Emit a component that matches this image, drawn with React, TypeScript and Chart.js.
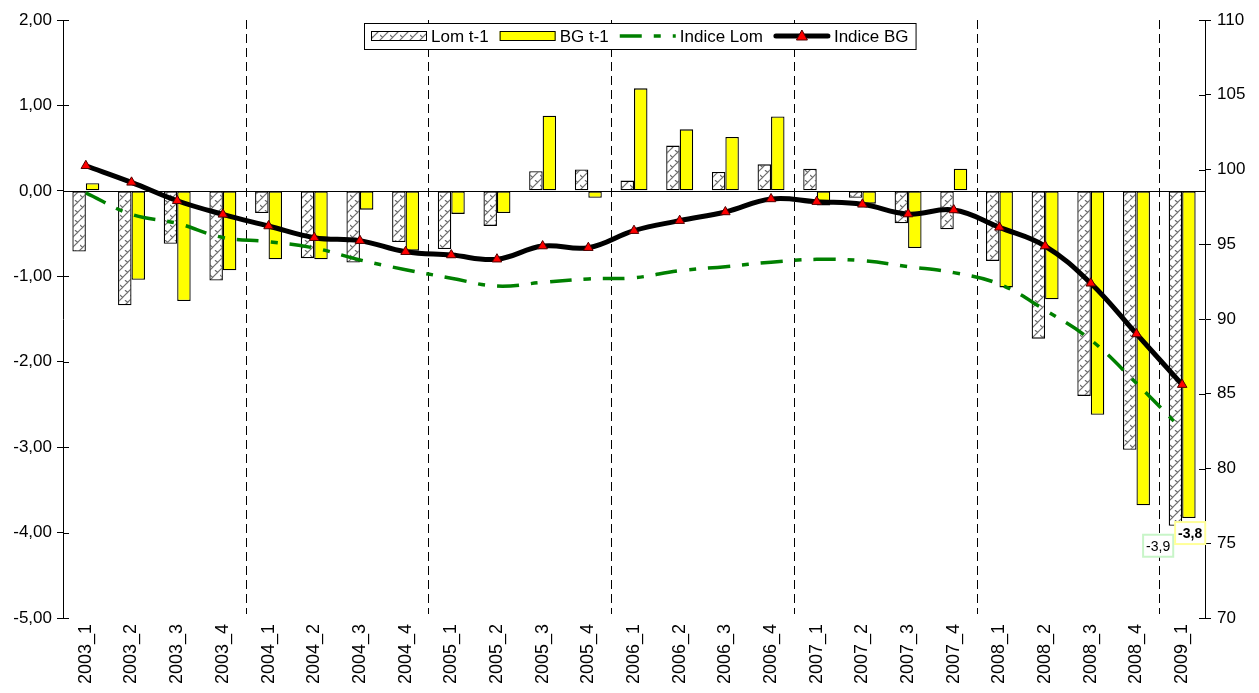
import React, { useEffect, useRef } from 'react';
import { Chart, registerables } from 'chart.js';

Chart.register(...registerables);

const categories = [
  '2003_1', '2003_2', '2003_3', '2003_4',
  '2004_1', '2004_2', '2004_3', '2004_4',
  '2005_1', '2005_2', '2005_3', '2005_4',
  '2006_1', '2006_2', '2006_3', '2006_4',
  '2007_1', '2007_2', '2007_3', '2007_4',
  '2008_1', '2008_2', '2008_3', '2008_4',
  '2009_1',
];

const lomT1 = [
  -0.71, -1.34, -0.62, -1.05,
  -0.26, -0.79, -0.84, -0.60,
  -0.68, -0.41, 0.23, 0.25,
  0.12, 0.53, 0.22, 0.31,
  0.26, -0.08, -0.38, -0.45,
  -0.82, -1.73, -2.40, -3.03,
  -3.92,
];

const bgT1 = [
  0.09, -1.04, -1.29, -0.93,
  -0.80, -0.80, -0.22, -0.70,
  -0.27, -0.26, 0.88, -0.08,
  1.20, 0.72, 0.63, 0.87,
  -0.17, -0.15, -0.67, 0.26,
  -1.13, -1.27, -2.62, -3.68,
  -3.83,
];

const indiceLom = [
  98.44, 97.0, 96.4, 95.45,
  95.17, 94.75, 93.95, 93.3,
  92.73, 92.2, 92.45, 92.68,
  92.76, 93.23, 93.5, 93.8,
  93.99, 93.9, 93.5, 93.1,
  92.33, 90.6, 88.6, 85.7,
  82.6,
];

const indiceBG = [
  100.25, 99.14, 97.91, 97.0,
  96.22, 95.44, 95.24, 94.5,
  94.28, 94.0, 94.88, 94.77,
  95.91, 96.58, 97.16, 98.03,
  97.85, 97.67, 97.02, 97.29,
  96.13, 94.88, 92.39, 89.0,
  85.61,
];

const seriesNames = ['Lom t-1', 'BG t-1', 'Indice Lom', 'Indice BG'];
const leftTicksRange = { min: -5, max: 2, step: 1 };
const rightTicksRange = { min: 70, max: 110, step: 5 };

const FONT = '"Liberation Sans", Arial, sans-serif';
const GREEN_DASH = [22, 12, 7, 12];

function makeHatch(): CanvasPattern | string {
  const c = document.createElement('canvas');
  c.width = 10;
  c.height = 10;
  const g = c.getContext('2d');
  if (!g) return '#ffffff';
  g.fillStyle = '#ffffff';
  g.fillRect(0, 0, 10, 10);
  g.strokeStyle = '#6e6e6e';
  g.lineWidth = 1.2;
  g.beginPath();
  g.moveTo(0, 10);
  g.lineTo(10, 0);
  g.moveTo(-2, 2);
  g.lineTo(2, -2);
  g.moveTo(8, 12);
  g.lineTo(12, 8);
  g.moveTo(0, 5);
  g.lineTo(3, 8);
  g.moveTo(5, 0);
  g.lineTo(8, 3);
  g.stroke();
  const p = g.createPattern(c, 'repeat');
  return p || '#ffffff';
}

const fmtComma = (v: number, d: number) => v.toFixed(d).replace('.', ',');

export default function App() {
  const canvasRef = useRef<HTMLCanvasElement | null>(null);

  useEffect(() => {
    const canvas = canvasRef.current;
    if (!canvas) return;
    const hatch = makeHatch();

    const decorPlugin = {
      id: 'decor',
      beforeDatasetsDraw(chart: any) {
        const { ctx, chartArea } = chart;
        const xs = chart.scales.x;
        const ys = chart.scales.y;
        const y2 = chart.scales.y2;
        ctx.save();
        ctx.strokeStyle = '#000';
        ctx.lineWidth = 1;
        ctx.setLineDash([9, 5]);
        for (let i = 4; i < categories.length; i += 4) {
          const x = Math.round((xs.getPixelForValue(i - 1) + xs.getPixelForValue(i)) / 2) + 0.5;
          ctx.beginPath();
          ctx.moveTo(x, chartArea.top);
          ctx.lineTo(x, chartArea.bottom - 4);
          ctx.stroke();
        }
        ctx.setLineDash([]);
        const y0 = Math.round(ys.getPixelForValue(0)) + 0.5;
        ctx.beginPath();
        ctx.moveTo(chartArea.left, y0);
        ctx.lineTo(chartArea.right, y0);
        ctx.stroke();
        ys.ticks.forEach((t: any) => {
          const yy = Math.round(ys.getPixelForValue(t.value)) + 0.5;
          ctx.beginPath();
          ctx.moveTo(chartArea.left, yy);
          ctx.lineTo(chartArea.left + 6, yy);
          ctx.stroke();
        });
        y2.ticks.forEach((t: any) => {
          const yy = Math.round(y2.getPixelForValue(t.value)) + 0.5;
          ctx.beginPath();
          ctx.moveTo(chartArea.right - 6, yy);
          ctx.lineTo(chartArea.right, yy);
          ctx.stroke();
        });
        ctx.restore();
      },
      afterDatasetsDraw(chart: any) {
        const { ctx } = chart;
        const xs = chart.scales.x;
        const ys = chart.scales.y;
        const last = categories.length - 1;
        const drawBox = (text: string, cx: number, cy: number, border: string, bold: boolean) => {
          ctx.save();
          ctx.font = (bold ? 'bold ' : '') + '14px ' + FONT;
          const w = ctx.measureText(text).width + 6;
          const h = 22;
          ctx.fillStyle = '#ffffff';
          ctx.fillRect(cx - w / 2, cy - h / 2, w, h);
          ctx.strokeStyle = border;
          ctx.lineWidth = 2;
          ctx.strokeRect(cx - w / 2, cy - h / 2, w, h);
          ctx.fillStyle = '#000';
          ctx.textAlign = 'center';
          ctx.textBaseline = 'middle';
          ctx.fillText(text, cx, cy + 1);
          ctx.restore();
        };
        const xc = xs.getPixelForValue(last);
        drawBox(fmtComma(lomT1[last], 1), xc - 24, ys.getPixelForValue(lomT1[last]) + 20, '#c8f5c8', false);
        drawBox(fmtComma(bgT1[last], 1), xc + 8, ys.getPixelForValue(bgT1[last]) + 15, '#ffff99', true);
      },
      afterDraw(chart: any) {
        const { ctx } = chart;
        ctx.save();
        ctx.font = '17px ' + FONT;
        const symW = 56;
        const pad = 7;
        const gapT = 4;
        const gapI = 11;
        const widths = seriesNames.map((n) => ctx.measureText(n).width);
        let total = pad * 2 + gapI * (seriesNames.length - 1);
        widths.forEach((w) => (total += symW + gapT + w));
        const left = 364;
        const top = 23;
        const h = 26;
        ctx.fillStyle = '#ffffff';
        ctx.fillRect(left, top, total, h);
        ctx.strokeStyle = '#000';
        ctx.lineWidth = 1;
        ctx.strokeRect(left + 0.5, top + 0.5, total, h);
        const cy = top + h / 2;
        let x = left + pad;
        seriesNames.forEach((name, i) => {
          if (i === 0 || i === 1) {
            ctx.fillStyle = i === 0 ? hatch : '#ffff00';
            ctx.fillRect(x, cy - 4.5, symW, 9);
            ctx.strokeStyle = '#000';
            ctx.lineWidth = 1;
            ctx.strokeRect(x + 0.5, cy - 4.5, symW - 1, 9);
          } else if (i === 2) {
            ctx.strokeStyle = '#008000';
            ctx.lineWidth = 3.5;
            ctx.setLineDash(GREEN_DASH);
            ctx.beginPath();
            ctx.moveTo(x, cy);
            ctx.lineTo(x + symW, cy);
            ctx.stroke();
            ctx.setLineDash([]);
          } else {
            ctx.strokeStyle = '#000';
            ctx.lineWidth = 5;
            ctx.lineCap = 'round';
            ctx.beginPath();
            ctx.moveTo(x + 2, cy);
            ctx.lineTo(x + symW - 2, cy);
            ctx.stroke();
            ctx.lineCap = 'butt';
            const tx = x + symW / 2;
            ctx.fillStyle = '#ff0000';
            ctx.strokeStyle = '#500000';
            ctx.lineWidth = 1;
            ctx.beginPath();
            ctx.moveTo(tx, cy - 6);
            ctx.lineTo(tx + 5.5, cy + 4);
            ctx.lineTo(tx - 5.5, cy + 4);
            ctx.closePath();
            ctx.fill();
            ctx.stroke();
          }
          x += symW + gapT;
          ctx.fillStyle = '#000';
          ctx.textAlign = 'left';
          ctx.textBaseline = 'middle';
          ctx.fillText(name, x, cy + 1);
          x += widths[i] + gapI;
        });
        ctx.restore();
      },
    };

    const tickFont = { family: FONT, size: 17 };

    const chart = new Chart(canvas, {
      type: 'bar',
      data: {
        labels: categories,
        datasets: [
          {
            type: 'line',
            label: seriesNames[3],
            data: indiceBG,
            yAxisID: 'y2',
            borderColor: '#000000',
            borderWidth: 5,
            tension: 0.4,
            pointStyle: 'triangle',
            pointRadius: 5.5,
            pointBackgroundColor: '#ff0000',
            pointBorderColor: '#500000',
            pointBorderWidth: 1,
            fill: false,
            order: 0,
          },
          {
            type: 'line',
            label: seriesNames[2],
            data: indiceLom,
            yAxisID: 'y2',
            borderColor: '#008000',
            borderWidth: 3.5,
            borderDash: GREEN_DASH,
            tension: 0.4,
            pointRadius: 0,
            fill: false,
            order: 1,
          },
          {
            type: 'bar',
            label: seriesNames[0],
            data: lomT1,
            yAxisID: 'y',
            backgroundColor: hatch as any,
            borderColor: '#000000',
            borderWidth: 1.3,
            borderSkipped: false,
            categoryPercentage: 0.59,
            barPercentage: 1,
            order: 2,
          },
          {
            type: 'bar',
            label: seriesNames[1],
            data: bgT1,
            yAxisID: 'y',
            backgroundColor: '#ffff00',
            borderColor: '#000000',
            borderWidth: 1.3,
            borderSkipped: false,
            categoryPercentage: 0.59,
            barPercentage: 1,
            order: 2,
          },
        ] as any,
      },
      options: {
        animation: false,
        responsive: true,
        maintainAspectRatio: false,
        layout: { padding: { top: 20, left: 0, right: 0, bottom: 0 } },
        plugins: {
          legend: { display: false },
          tooltip: { enabled: false },
        },
        scales: {
          x: {
            type: 'category',
            offset: true,
            grid: { display: false, drawTicks: false },
            border: { display: false },
            ticks: {
              autoSkip: false,
              maxRotation: 90,
              minRotation: 90,
              padding: 6,
              color: '#000',
              font: { family: FONT, size: 18 },
            },
            afterFit(s: any) {
              s.height = 75;
            },
          },
          y: {
            type: 'linear',
            position: 'left',
            min: leftTicksRange.min,
            max: leftTicksRange.max,
            ticks: {
              stepSize: leftTicksRange.step,
              color: '#000',
              font: tickFont,
              padding: 5,
              callback: (v: any) => fmtComma(Number(v), 2),
            },
            grid: { drawOnChartArea: false, drawTicks: true, tickLength: 6, color: '#000' },
            border: { display: true, color: '#000' },
            afterFit(s: any) {
              s.width = 63;
            },
          },
          y2: {
            type: 'linear',
            position: 'right',
            min: rightTicksRange.min,
            max: rightTicksRange.max,
            ticks: {
              stepSize: rightTicksRange.step,
              color: '#000',
              font: tickFont,
              padding: 6,
            },
            grid: { drawOnChartArea: false, drawTicks: true, tickLength: 6, color: '#000' },
            border: { display: true, color: '#000' },
            afterFit(s: any) {
              s.width = 54;
            },
          },
        },
      } as any,
      plugins: [decorPlugin],
    });

    return () => {
      chart.destroy();
    };
  }, []);

  return (
    <div style={{ position: 'absolute', left: 0, top: 0, width: 1259, height: 693, background: '#ffffff' }}>
      <canvas ref={canvasRef} />
    </div>
  );
}
